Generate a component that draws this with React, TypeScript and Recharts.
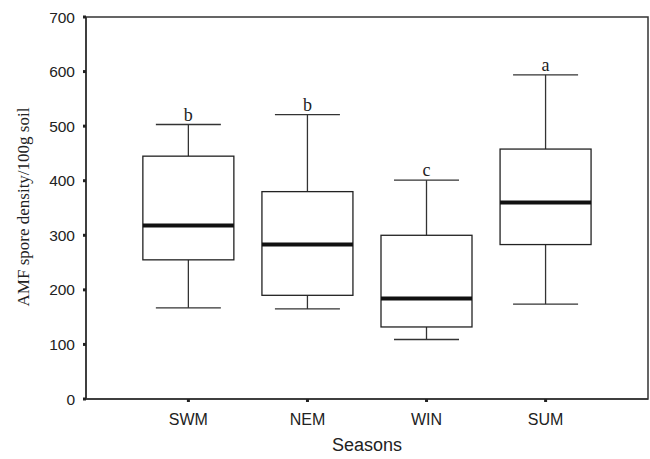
import { ComposedChart, Bar, XAxis, YAxis, ReferenceArea } from 'recharts';

const seasons = ['SWM', 'NEM', 'WIN', 'SUM'];
const lows = [167, 165, 109, 174];
const q1s = [255, 190, 132, 283];
const medians = [318, 283, 184, 360];
const q3s = [445, 380, 300, 458];
const highs = [503, 521, 401, 594];
const letters = ['b', 'b', 'c', 'a'];
const yTicks = [0, 100, 200, 300, 400, 500, 600, 700];

const data = seasons.map((season, i) => ({
  pos: i,
  season,
  range: [lows[i], highs[i]],
  low: lows[i],
  q1: q1s[i],
  median: medians[i],
  q3: q3s[i],
  high: highs[i],
  letter: letters[i],
}));

const BoxShape = (props: any) => {
  const { x, y, width, height, payload } = props;
  const { low, high, q1, median, q3, letter } = payload;
  // map a value into the pixel span of the [low, high] bar
  const py = (v: number) => y + (height * (high - v)) / (high - low);
  const cx = x + width / 2;
  const cap = 65;
  const line = '#333';
  return (
    <g>
      <line x1={cx} x2={cx} y1={py(high)} y2={py(q3)} stroke={line} strokeWidth={1.3} />
      <line x1={cx} x2={cx} y1={py(q1)} y2={py(low)} stroke={line} strokeWidth={1.3} />
      <line x1={cx - cap / 2} x2={cx + cap / 2} y1={py(high)} y2={py(high)} stroke={line} strokeWidth={1.3} />
      <line x1={cx - cap / 2} x2={cx + cap / 2} y1={py(low)} y2={py(low)} stroke={line} strokeWidth={1.3} />
      <rect x={x} y={py(q3)} width={width} height={py(q1) - py(q3)} fill="#fff" stroke="#222" strokeWidth={1.3} />
      <line x1={x} x2={x + width} y1={py(median)} y2={py(median)} stroke="#111" strokeWidth={4} />
      <text x={cx} y={py(high) - 4} textAnchor="middle" fontFamily="'Liberation Serif', 'Times New Roman', serif" fontSize={18} fill="#222">
        {letter}
      </text>
    </g>
  );
};

const serif = "'Liberation Serif', 'Times New Roman', serif";
const sans = "'Liberation Sans', Arial, sans-serif";

export default function App() {
  return (
    <div style={{ position: 'absolute', left: 0, top: 0, width: 650, height: 459, background: '#fff' }}>
      <ComposedChart width={650} height={459} data={data} margin={{ top: 17, right: 2, bottom: 0, left: 0 }}>
        {/* frame around the plot area */}
        <ReferenceArea y1={0} y2={700} fill="none" stroke="#333" strokeWidth={1.5} />
        <XAxis
          dataKey="pos"
          type="number"
          domain={[-0.86, 3.86]}
          ticks={[0, 1, 2, 3]}
          tickFormatter={(v: number) => seasons[v]}
          height={60}
          tick={{ fontFamily: sans, fontSize: 16, fill: '#222' }}
          tickSize={3}
          tickMargin={12}
          tickLine={{ stroke: '#222', strokeWidth: 3 }}
          axisLine={{ stroke: '#333', strokeWidth: 1.5 }}
          label={{ value: 'Seasons', position: 'insideBottom', offset: 8, fontFamily: sans, fontSize: 18, fill: '#222' }}
        />
        <YAxis
          domain={[0, 700]}
          ticks={yTicks}
          width={86}
          tick={{ fontFamily: sans, fontSize: 15.5, fill: '#222' }}
          tickSize={3}
          tickMargin={8}
          tickLine={{ stroke: '#222', strokeWidth: 3 }}
          axisLine={{ stroke: '#333', strokeWidth: 1.5 }}
          label={() => (
            <text
              x={23}
              y={207}
              transform="rotate(-90, 23, 207)"
              textAnchor="middle"
              dominantBaseline="central"
              fontFamily={serif}
              fontSize={17}
              fill="#222"
            >
              AMF spore density/100g soil
            </text>
          )}
        />
        <Bar dataKey="range" barSize={91} shape={BoxShape} isAnimationActive={false} />
      </ComposedChart>
    </div>
  );
}
